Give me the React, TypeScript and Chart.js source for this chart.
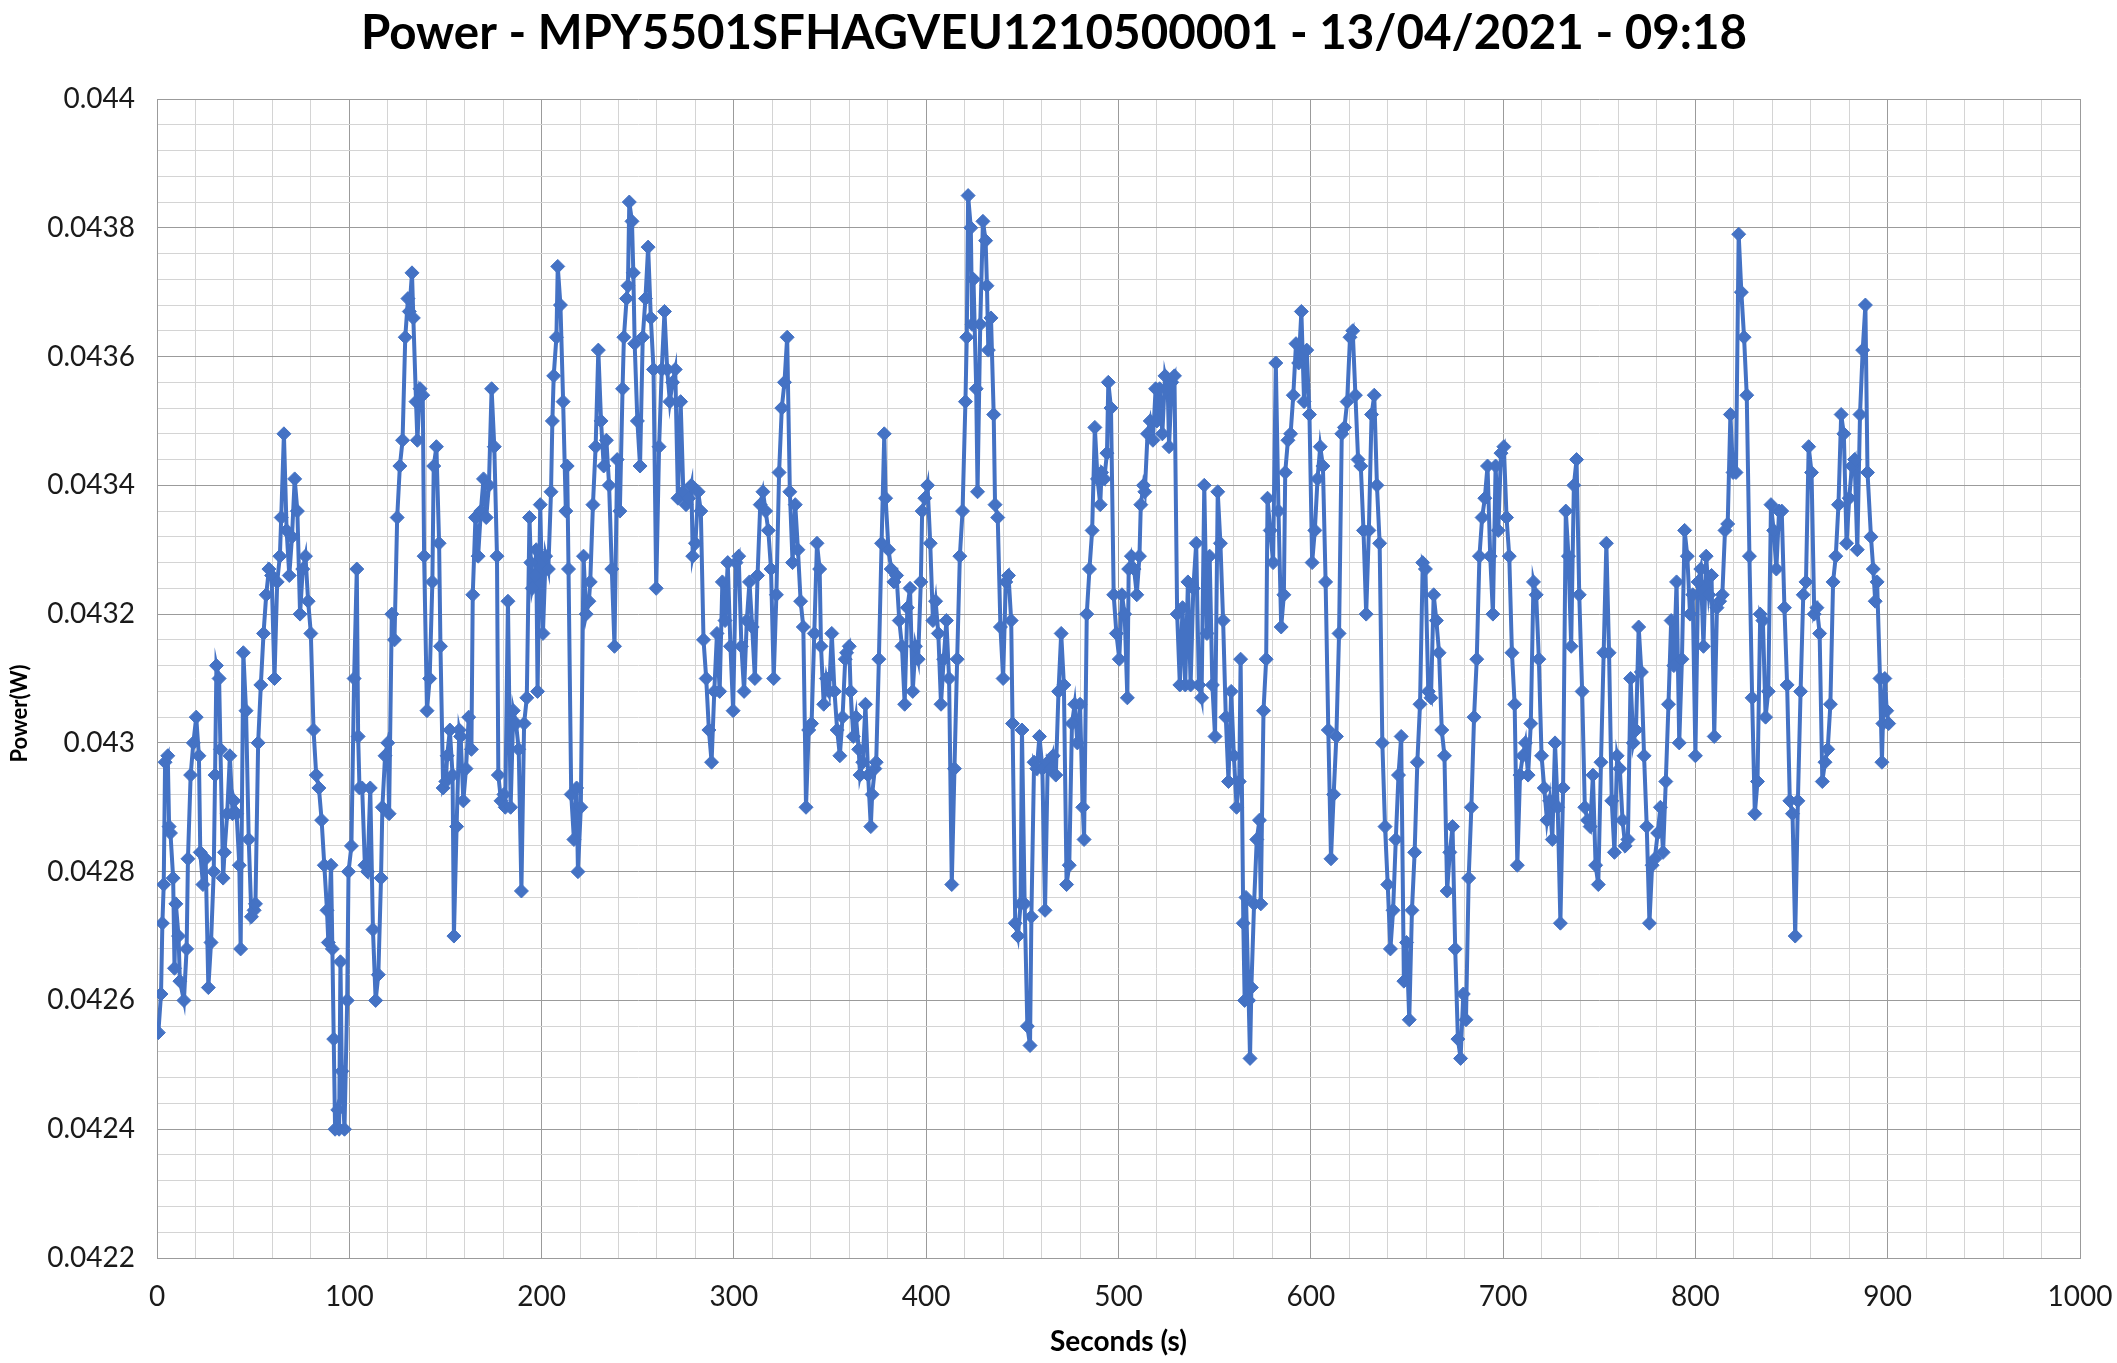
import { useEffect, useRef } from "react";
import { Chart, registerables } from "chart.js";

Chart.register(...registerables);

const TITLE = "Power - MPY5501SFHAGVEU1210500001 - 13/04/2021 - 09:18";
const X_TITLE = "Seconds (s)";
const Y_TITLE = "Power(W)";

const X_MIN = 0;
const X_MAX = 1000;
const X_MAJOR = 100;
const X_MINOR = 20;
const Y_MIN = 0.0422;
const Y_MAX = 0.044;
const Y_MAJOR = 0.0002;
const Y_MINOR = 0.00004;

const SECONDS = [
  0.7, 2.1, 2.8, 3.5, 4.2, 5.6, 6.3, 7.0, 8.4, 9.1,
  9.8, 11.2, 11.9, 14.0, 15.4, 16.1, 17.5, 18.9, 20.4, 21.8,
  22.5, 23.9, 25.3, 26.7, 28.1, 29.5, 30.2, 30.9, 32.3, 33.0,
  34.4, 35.1, 36.5, 37.9, 39.3, 40.0, 41.4, 42.8, 43.5, 44.9,
  46.3, 47.7, 49.1, 50.5, 51.2, 52.6, 54.0, 55.4, 56.8, 58.2,
  59.6, 61.1, 62.5, 63.9, 64.6, 66.0, 67.4, 68.8, 70.2, 71.6,
  73.0, 74.4, 75.8, 77.2, 78.6, 80.0, 81.4, 82.8, 84.2, 85.6,
  87.0, 88.4, 89.1, 90.5, 91.2, 91.9, 92.6, 94.0, 94.7, 95.4,
  96.1, 97.5, 98.9, 99.6, 101.1, 102.5, 103.9, 104.6, 105.3, 106.7,
  108.1, 109.5, 110.9, 112.3, 113.7, 115.1, 116.5, 117.2, 118.6, 120.0,
  120.7, 122.1, 123.5, 124.9, 126.3, 127.7, 129.1, 130.5, 131.2, 132.6,
  133.3, 134.7, 135.4, 136.8, 138.2, 138.9, 140.4, 141.8, 143.2, 143.9,
  145.3, 146.7, 147.4, 148.8, 150.2, 150.9, 152.3, 153.7, 154.4, 155.8,
  157.2, 157.9, 159.3, 160.7, 162.1, 163.5, 164.2, 165.6, 167.0, 168.4,
  169.8, 171.2, 172.6, 174.0, 175.4, 176.8, 177.5, 178.9, 180.4, 181.1,
  182.5, 183.9, 185.3, 186.7, 188.1, 189.5, 190.9, 192.3, 193.7, 194.4,
  195.1, 196.5, 197.2, 197.9, 199.3, 200.7, 202.1, 203.5, 204.9, 205.6,
  206.3, 207.7, 208.4, 209.8, 211.2, 212.6, 213.3, 214.0, 215.4, 216.8,
  218.2, 218.9, 220.4, 221.8, 223.2, 224.6, 225.3, 226.7, 228.1, 229.5,
  230.9, 232.3, 233.7, 235.1, 236.5, 237.9, 239.3, 240.7, 242.1, 242.8,
  244.2, 244.9, 245.6, 247.0, 247.7, 248.4, 249.8, 251.2, 252.6, 254.0,
  255.4, 256.8, 258.2, 259.6, 261.1, 262.5, 263.9, 265.3, 266.7, 268.1,
  269.5, 270.9, 272.3, 273.7, 275.1, 276.5, 277.9, 278.6, 280.0, 281.4,
  282.8, 284.2, 285.6, 287.0, 288.4, 289.8, 291.2, 292.6, 294.0, 295.4,
  296.8, 298.2, 299.6, 301.1, 302.5, 303.9, 305.3, 306.7, 308.1, 309.5,
  310.9, 312.3, 313.7, 315.1, 316.5, 317.9, 319.3, 320.7, 322.1, 323.5,
  324.9, 326.3, 327.7, 329.1, 330.5, 331.9, 333.3, 334.7, 336.1, 337.5,
  338.9, 340.4, 341.8, 343.2, 344.6, 345.3, 346.7, 348.1, 349.5, 350.9,
  352.3, 353.7, 355.1, 356.5, 357.9, 358.6, 360.0, 360.7, 362.1, 363.5,
  364.9, 365.6, 367.0, 368.4, 369.8, 371.2, 371.9, 373.3, 374.0, 375.4,
  376.8, 378.2, 378.9, 380.4, 381.8, 383.2, 384.6, 386.0, 387.4, 388.8,
  390.2, 391.6, 393.0, 394.4, 395.8, 397.2, 397.9, 399.3, 400.7, 402.1,
  403.5, 404.9, 406.3, 407.7, 409.1, 410.5, 411.9, 413.3, 414.7, 416.1,
  417.5, 418.9, 420.4, 421.1, 421.8, 423.2, 423.9, 424.6, 426.0, 426.7,
  428.1, 429.5, 430.9, 431.6, 432.3, 433.7, 435.1, 435.8, 437.2, 438.6,
  440.0, 441.4, 442.8, 444.2, 444.9, 446.3, 447.7, 449.1, 449.8, 451.2,
  452.6, 454.0, 454.7, 456.1, 457.5, 458.9, 460.4, 461.8, 463.2, 464.6,
  466.0, 467.4, 468.8, 470.2, 471.6, 473.0, 474.4, 475.8, 477.2, 478.6,
  480.0, 481.4, 482.1, 483.5, 484.9, 486.3, 487.7, 489.1, 490.5, 491.2,
  492.6, 494.0, 494.7, 496.1, 497.5, 498.9, 500.4, 501.8, 503.2, 504.6,
  505.3, 506.7, 508.1, 509.5, 510.9, 511.6, 513.0, 513.7, 515.1, 516.5,
  517.9, 519.3, 520.0, 521.4, 522.8, 524.2, 525.6, 526.3, 527.7, 529.1,
  530.5, 531.9, 533.3, 534.7, 536.1, 537.5, 538.9, 540.4, 541.8, 543.2,
  544.6, 546.0, 547.4, 548.8, 550.2, 551.6, 553.0, 554.4, 555.8, 557.2,
  558.6, 560.0, 561.4, 562.8, 563.5, 564.9, 565.6, 566.3, 567.7, 568.4,
  569.1, 570.5, 571.9, 573.3, 574.0, 575.4, 576.8, 577.5, 578.9, 580.4,
  581.8, 583.2, 584.6, 586.0, 586.7, 588.1, 589.5, 590.9, 592.3, 593.7,
  595.1, 596.5, 597.9, 599.3, 600.7, 602.1, 603.5, 604.9, 606.3, 607.7,
  609.1, 610.5, 611.9, 613.3, 614.7, 616.1, 617.5, 618.9, 620.4, 621.8,
  623.2, 624.6, 626.0, 627.4, 628.8, 630.2, 631.6, 633.0, 634.4, 635.8,
  637.2, 638.6, 640.0, 641.4, 642.8, 644.2, 645.6, 647.0, 648.4, 649.8,
  651.2, 652.6, 654.0, 655.4, 656.8, 658.2, 659.6, 661.1, 662.5, 663.9,
  665.3, 666.7, 668.1, 669.5, 670.9, 672.3, 673.7, 675.1, 676.5, 677.9,
  679.3, 680.7, 682.1, 683.5, 684.9, 686.3, 687.7, 689.1, 690.5, 691.9,
  693.3, 694.7, 696.1, 697.5, 698.9, 700.4, 701.8, 703.2, 704.6, 706.0,
  707.4, 708.8, 710.2, 711.6, 713.0, 714.4, 715.8, 717.2, 718.6, 720.0,
  721.4, 722.8, 724.2, 725.6, 727.0, 728.4, 729.8, 731.2, 732.6, 734.0,
  735.4, 736.8, 738.2, 739.6, 741.1, 742.5, 743.9, 745.3, 746.7, 748.1,
  749.5, 750.9, 752.3, 753.7, 755.1, 756.5, 757.9, 759.3, 760.7, 762.1,
  763.5, 764.9, 766.3, 767.7, 769.1, 770.5, 771.9, 773.3, 774.7, 776.1,
  777.5, 778.9, 780.4, 781.8, 783.2, 784.6, 786.0, 787.4, 788.8, 790.2,
  791.6, 793.0, 794.4, 795.8, 797.2, 798.6, 800.0, 801.4, 802.8, 804.2,
  805.6, 807.0, 808.4, 809.8, 811.2, 812.6, 814.0, 815.4, 816.8, 818.2,
  819.6, 821.1, 822.5, 823.9, 825.3, 826.7, 828.1, 829.5, 830.9, 832.3,
  833.7, 835.1, 836.5, 837.9, 839.3, 840.7, 842.1, 843.5, 844.9, 846.3,
  847.7, 849.1, 850.5, 851.9, 853.3, 854.7, 856.1, 857.5, 858.9, 860.4,
  861.8, 863.2, 864.6, 866.0, 867.4, 868.8, 870.2, 871.6, 873.0, 874.4,
  875.8, 877.2, 878.6, 880.0, 881.4, 882.8, 884.2, 885.6, 887.0, 888.4,
  889.5, 891.3, 892.5, 893.5, 894.5, 896.0, 897.0, 897.5, 898.5, 899.5,
  900.5,
];

const POWER_W = [
  0.04255, 0.04261, 0.04272, 0.04278, 0.04297, 0.04298, 0.04287, 0.04286, 0.04279, 0.04265,
  0.04275, 0.0427, 0.04263, 0.0426, 0.04268, 0.04282, 0.04295, 0.043, 0.04304, 0.04298,
  0.04283, 0.04278, 0.04282, 0.04262, 0.04269, 0.0428, 0.04295, 0.04312, 0.0431, 0.04299,
  0.04279, 0.04283, 0.04289, 0.04298, 0.04289, 0.04291, 0.04289, 0.04281, 0.04268, 0.04314,
  0.04305, 0.04285, 0.04273, 0.04274, 0.04275, 0.043, 0.04309, 0.04317, 0.04323, 0.04327,
  0.04326, 0.0431, 0.04325, 0.04329, 0.04335, 0.04348, 0.04333, 0.04326, 0.04332, 0.04341,
  0.04336, 0.0432, 0.04327, 0.04329, 0.04322, 0.04317, 0.04302, 0.04295, 0.04293, 0.04288,
  0.04281, 0.04274, 0.04269, 0.04281, 0.04268, 0.04254, 0.0424, 0.04243, 0.0424, 0.04266,
  0.04249, 0.0424, 0.0426, 0.0428, 0.04284, 0.0431, 0.04327, 0.04301, 0.04293, 0.04293,
  0.04281, 0.0428, 0.04293, 0.04271, 0.0426, 0.04264, 0.04279, 0.0429, 0.04298, 0.043,
  0.04289, 0.0432, 0.04316, 0.04335, 0.04343, 0.04347, 0.04363, 0.04369, 0.04367, 0.04373,
  0.04366, 0.04353, 0.04347, 0.04355, 0.04354, 0.04329, 0.04305, 0.0431, 0.04325, 0.04343,
  0.04346, 0.04331, 0.04315, 0.04293, 0.04294, 0.04298, 0.04302, 0.04295, 0.0427, 0.04287,
  0.04302, 0.04301, 0.04291, 0.04296, 0.04304, 0.04299, 0.04323, 0.04335, 0.04329, 0.04336,
  0.04341, 0.04335, 0.0434, 0.04355, 0.04346, 0.04329, 0.04295, 0.04291, 0.04292, 0.0429,
  0.04322, 0.0429, 0.04305, 0.04303, 0.04299, 0.04277, 0.04303, 0.04307, 0.04335, 0.04328,
  0.04324, 0.04326, 0.0433, 0.04308, 0.04337, 0.04317, 0.04329, 0.04327, 0.04339, 0.0435,
  0.04357, 0.04363, 0.04374, 0.04368, 0.04353, 0.04336, 0.04343, 0.04327, 0.04292, 0.04285,
  0.04293, 0.0428, 0.0429, 0.04329, 0.0432, 0.04322, 0.04325, 0.04337, 0.04346, 0.04361,
  0.0435, 0.04343, 0.04347, 0.0434, 0.04327, 0.04315, 0.04344, 0.04336, 0.04355, 0.04363,
  0.04369, 0.04371, 0.04384, 0.04381, 0.04373, 0.04362, 0.0435, 0.04343, 0.04363, 0.04369,
  0.04377, 0.04366, 0.04358, 0.04324, 0.04346, 0.04358, 0.04367, 0.04358, 0.04353, 0.04356,
  0.04358, 0.04338, 0.04353, 0.04339, 0.04337, 0.04338, 0.0434, 0.04329, 0.04331, 0.04339,
  0.04336, 0.04316, 0.0431, 0.04302, 0.04297, 0.04308, 0.04317, 0.04308, 0.04325, 0.04319,
  0.04328, 0.04315, 0.04305, 0.04328, 0.04329, 0.04315, 0.04308, 0.04319, 0.04325, 0.04318,
  0.0431, 0.04326, 0.04337, 0.04339, 0.04336, 0.04333, 0.04327, 0.0431, 0.04323, 0.04342,
  0.04352, 0.04356, 0.04363, 0.04339, 0.04328, 0.04337, 0.0433, 0.04322, 0.04318, 0.0429,
  0.04302, 0.04303, 0.04317, 0.04331, 0.04327, 0.04315, 0.04306, 0.0431, 0.04308, 0.04317,
  0.04308, 0.04302, 0.04298, 0.04304, 0.04313, 0.04314, 0.04315, 0.04308, 0.04301, 0.04304,
  0.04299, 0.04295, 0.04297, 0.04306, 0.04295, 0.04287, 0.04292, 0.04296, 0.04297, 0.04313,
  0.04331, 0.04348, 0.04338, 0.0433, 0.04327, 0.04325, 0.04326, 0.04319, 0.04315, 0.04306,
  0.04321, 0.04324, 0.04308, 0.04315, 0.04313, 0.04325, 0.04336, 0.04338, 0.0434, 0.04331,
  0.04319, 0.04322, 0.04317, 0.04306, 0.04313, 0.04319, 0.0431, 0.04278, 0.04296, 0.04313,
  0.04329, 0.04336, 0.04353, 0.04363, 0.04385, 0.0438, 0.04365, 0.04372, 0.04355, 0.04339,
  0.04365, 0.04381, 0.04378, 0.04371, 0.04361, 0.04366, 0.04351, 0.04337, 0.04335, 0.04318,
  0.0431, 0.04325, 0.04326, 0.04319, 0.04303, 0.04272, 0.0427, 0.04275, 0.04302, 0.04275,
  0.04256, 0.04253, 0.04273, 0.04297, 0.04296, 0.04301, 0.04296, 0.04274, 0.04297, 0.04296,
  0.04298, 0.04295, 0.04308, 0.04317, 0.04309, 0.04278, 0.04281, 0.04303, 0.04306, 0.043,
  0.04306, 0.0429, 0.04285, 0.0432, 0.04327, 0.04333, 0.04349, 0.04341, 0.04337, 0.04342,
  0.04341, 0.04345, 0.04356, 0.04352, 0.04323, 0.04317, 0.04313, 0.04323, 0.0432, 0.04307,
  0.04327, 0.04329, 0.04327, 0.04323, 0.04329, 0.04337, 0.0434, 0.04339, 0.04348, 0.0435,
  0.04347, 0.04355, 0.0435, 0.04355, 0.04348, 0.04357, 0.04355, 0.04346, 0.04356, 0.04357,
  0.0432, 0.04309, 0.04321, 0.04309, 0.04325, 0.04309, 0.04324, 0.04331, 0.04309, 0.04307,
  0.0434, 0.04317, 0.04329, 0.04309, 0.04301, 0.04339, 0.04331, 0.04319, 0.04304, 0.04294,
  0.04308, 0.04298, 0.0429, 0.04294, 0.04313, 0.04272, 0.0426, 0.04276, 0.0426, 0.04251,
  0.04262, 0.04275, 0.04285, 0.04288, 0.04275, 0.04305, 0.04313, 0.04338, 0.04333, 0.04328,
  0.04359, 0.04336, 0.04318, 0.04323, 0.04342, 0.04347, 0.04348, 0.04354, 0.04362, 0.04359,
  0.04367, 0.04353, 0.04361, 0.04351, 0.04328, 0.04333, 0.04341, 0.04346, 0.04343, 0.04325,
  0.04302, 0.04282, 0.04292, 0.04301, 0.04317, 0.04348, 0.04349, 0.04353, 0.04363, 0.04364,
  0.04354, 0.04344, 0.04343, 0.04333, 0.0432, 0.04333, 0.04351, 0.04354, 0.0434, 0.04331,
  0.043, 0.04287, 0.04278, 0.04268, 0.04274, 0.04285, 0.04295, 0.04301, 0.04263, 0.04269,
  0.04257, 0.04274, 0.04283, 0.04297, 0.04306, 0.04328, 0.04327, 0.04308, 0.04307, 0.04323,
  0.04319, 0.04314, 0.04302, 0.04298, 0.04277, 0.04283, 0.04287, 0.04268, 0.04254, 0.04251,
  0.04261, 0.04257, 0.04279, 0.0429, 0.04304, 0.04313, 0.04329, 0.04335, 0.04338, 0.04343,
  0.04329, 0.0432, 0.04343, 0.04333, 0.04345, 0.04346, 0.04335, 0.04329, 0.04314, 0.04306,
  0.04281, 0.04295, 0.04298, 0.043, 0.04295, 0.04303, 0.04325, 0.04323, 0.04313, 0.04298,
  0.04293, 0.04288, 0.04291, 0.04285, 0.043, 0.0429, 0.04272, 0.04293, 0.04336, 0.04329,
  0.04315, 0.0434, 0.04344, 0.04323, 0.04308, 0.0429, 0.04288, 0.04287, 0.04295, 0.04281,
  0.04278, 0.04297, 0.04314, 0.04331, 0.04314, 0.04291, 0.04283, 0.04298, 0.04296, 0.04288,
  0.04284, 0.04285, 0.0431, 0.043, 0.04302, 0.04318, 0.04311, 0.04298, 0.04287, 0.04272,
  0.04281, 0.04282, 0.04286, 0.0429, 0.04283, 0.04294, 0.04306, 0.04319, 0.04312, 0.04325,
  0.043, 0.04313, 0.04333, 0.04329, 0.0432, 0.04323, 0.04298, 0.04325, 0.04327, 0.04315,
  0.04329, 0.04323, 0.04326, 0.04301, 0.04321, 0.04322, 0.04323, 0.04333, 0.04334, 0.04351,
  0.04342, 0.04342, 0.04379, 0.0437, 0.04363, 0.04354, 0.04329, 0.04307, 0.04289, 0.04294,
  0.0432, 0.04319, 0.04304, 0.04308, 0.04337, 0.04333, 0.04327, 0.04336, 0.04336, 0.04321,
  0.04309, 0.04291, 0.04289, 0.0427, 0.04291, 0.04308, 0.04323, 0.04325, 0.04346, 0.04342,
  0.0432, 0.04321, 0.04317, 0.04294, 0.04297, 0.04299, 0.04306, 0.04325, 0.04329, 0.04337,
  0.04351, 0.04348, 0.04331, 0.04338, 0.04343, 0.04344, 0.0433, 0.04351, 0.04361, 0.04368,
  0.04342, 0.04332, 0.04327, 0.04322, 0.04325, 0.0431, 0.04297, 0.04303, 0.0431, 0.04305,
  0.04303,
];

const LINE_COLOR = "#4472C4";
const MAJOR_GRID = "#9b9b9b";
const MINOR_GRID = "#d4d4d4";
const FONT = "Lato, 'Open Sans', sans-serif";

const isMultiple = (v: number, step: number) => {
  const r = v / step;
  return Math.abs(r - Math.round(r)) < 1e-6;
};

const formatY = (v: number) => v.toFixed(4).replace(/0+$/, "");

// Draws the vertical axis title (rotated) a little below the plot-area centre, as in the reference.
const yTitlePlugin = {
  id: "yTitle",
  afterDraw(chart: any) {
    const { ctx, chartArea } = chart;
    ctx.save();
    ctx.translate(20, (chartArea.top + chartArea.bottom) / 2 + 35);
    ctx.rotate(-Math.PI / 2);
    ctx.fillStyle = "#000";
    ctx.font = `bold 22px ${FONT}`;
    ctx.textAlign = "center";
    ctx.textBaseline = "middle";
    ctx.fillText(Y_TITLE, 0, 0);
    ctx.restore();
  },
};

export default function App() {
  const canvasRef = useRef<HTMLCanvasElement | null>(null);

  useEffect(() => {
    const canvas = canvasRef.current;
    if (!canvas) return;
    const points = SECONDS.map((x, i) => ({ x, y: POWER_W[i] }));
    const chart = new Chart(canvas, {
      type: "line",
      data: {
        datasets: [
          {
            data: points,
            borderColor: LINE_COLOR,
            backgroundColor: LINE_COLOR,
            borderWidth: 4,
            pointStyle: "rectRot",
            pointRadius: 7,
            pointBorderWidth: 1,
            pointBackgroundColor: LINE_COLOR,
            pointBorderColor: LINE_COLOR,
            tension: 0,
            fill: false,
          },
        ],
      },
      plugins: [yTitlePlugin],
      options: {
        animation: false,
        responsive: false,
        devicePixelRatio: 1,
        layout: { padding: { left: 28, right: 37, top: 0, bottom: 0 } },
        plugins: {
          legend: { display: false },
          tooltip: { enabled: false },
          title: {
            display: true,
            text: TITLE,
            color: "#000",
            font: { family: FONT, size: 47.5, weight: "bold" },
            padding: { top: 5, bottom: 37 },
          },
        },
        scales: {
          x: {
            type: "linear",
            min: X_MIN,
            max: X_MAX,
            afterBuildTicks: (axis: any) => {
              const ticks = [];
              for (let v = X_MIN; v <= X_MAX; v += X_MINOR) ticks.push({ value: v });
              axis.ticks = ticks;
            },
            afterFit: (axis: any) => {
              axis.height = 105;
            },
            ticks: {
              autoSkip: false,
              maxRotation: 0,
              padding: 0,
              color: "#1a1a1a",
              font: { family: FONT, size: 28 },
              callback: (v: any) => (isMultiple(Number(v), X_MAJOR) ? String(v) : ""),
            },
            grid: {
              drawTicks: true,
              tickLength: 22,
              tickColor: "rgba(0,0,0,0)",
              color: (ctx: any) => (isMultiple(ctx.tick.value, X_MAJOR) ? MAJOR_GRID : MINOR_GRID),
              lineWidth: 1,
            },
            border: { display: true, color: MAJOR_GRID, width: 1 },
            title: {
              display: true,
              text: X_TITLE,
              color: "#000",
              font: { family: FONT, size: 28, weight: "bold" },
              padding: { top: 0, bottom: 4 },
            },
          },
          y: {
            type: "linear",
            min: Y_MIN,
            max: Y_MAX,
            afterBuildTicks: (axis: any) => {
              const ticks = [];
              const n = Math.round((Y_MAX - Y_MIN) / Y_MINOR);
              for (let i = 0; i <= n; i++) ticks.push({ value: +(Y_MIN + i * Y_MINOR).toFixed(6) });
              axis.ticks = ticks;
            },
            afterFit: (axis: any) => {
              axis.width = 129;
            },
            ticks: {
              autoSkip: false,
              padding: 22,
              color: "#1a1a1a",
              font: { family: FONT, size: 28 },
              callback: (v: any) => (isMultiple(Number(v), Y_MAJOR) ? formatY(Number(v)) : ""),
            },
            grid: {
              drawTicks: false,
              color: (ctx: any) => (isMultiple(ctx.tick.value, Y_MAJOR) ? MAJOR_GRID : MINOR_GRID),
              lineWidth: 1,
            },
            border: { display: true, color: MAJOR_GRID, width: 1 },
            title: { display: false },
          },
        },
      },
    });
    return () => chart.destroy();
  }, []);

  return (
    <div
      style={{
        position: "fixed",
        left: 0,
        top: 0,
        width: 2117,
        height: 1363,
        background: "#ffffff",
      }}
    >
      <canvas
        ref={canvasRef}
        width={2117}
        height={1363}
        style={{ display: "block", width: 2117, height: 1363 }}
      />
    </div>
  );
}
